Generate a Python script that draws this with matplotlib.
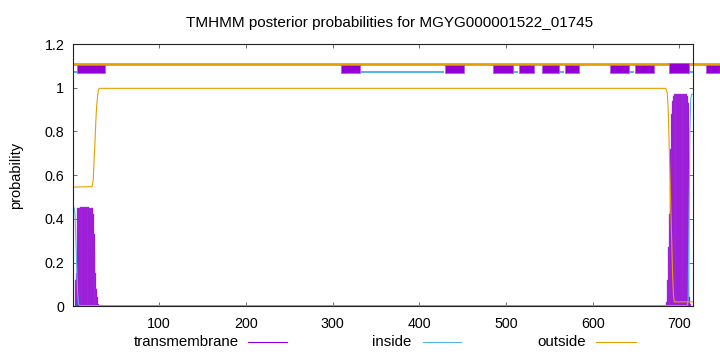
import matplotlib
matplotlib.use('Agg')
import matplotlib.pyplot as plt
from matplotlib.patches import Rectangle
from matplotlib.lines import Line2D

plt.rcParams['font.family'] = ['Liberation Sans', 'DejaVu Sans']

W, H = 720, 352
seq_len = 715

# transmembrane posterior (impulses), only the non-zero residues
tm_left_res = list(range(4, 31))
tm_left = [0.12, 0.15, 0.45, 0.45, 0.45, 0.452, 0.453, 0.453, 0.453, 0.453,
           0.453, 0.453, 0.453, 0.453, 0.452, 0.452, 0.451, 0.45, 0.45, 0.448,
           0.42, 0.33, 0.25, 0.15, 0.08, 0.04, 0.01]
tm_right_res = list(range(685, 714))
tm_right = [0.02, 0.12, 0.27, 0.42, 0.55, 0.72, 0.88, 0.94, 0.96,
            0.97, 0.97, 0.97, 0.97, 0.97, 0.97, 0.97, 0.97, 0.97, 0.97,
            0.97, 0.97, 0.97, 0.97, 0.97,
            0.96, 0.93, 0.5, 0.04, 0.01]

# inside / outside posterior lines
inside_res = [1, 2, 3, 4, 5, 6, 7, 8, 709, 710, 711, 712, 713, 714, 715]
inside = [0.453, 0.45, 0.42, 0.3, 0.17, 0.06, 0.01, 0.003, 0.003, 0.03, 0.4,
          0.8, 0.95, 0.97, 0.97]
outside_res = [1, 22, 23, 24, 25, 26, 27, 28, 29, 30, 31, 684, 685, 686, 687,
               688, 689, 690, 691, 692, 693, 694, 715]
outside = [0.545, 0.547, 0.55, 0.58, 0.67, 0.75, 0.85, 0.92, 0.96, 0.99, 0.997,
           0.997, 0.99, 0.97, 0.9, 0.75, 0.6, 0.45, 0.3, 0.15, 0.05, 0.02, 0.02]

# topology strip at the top
tm_boxes = [(5, 38), (310, 332), (430, 452), (485, 508), (515, 532),
            (542, 561), (568, 584), (620, 642), (649, 671), (731, 770)]
tall_box = (688, 711)
inside_segs = [(1, 16), (333, 429), (509, 514), (562, 567), (643, 648),
               (712, 716)]

c_tm = '#9400d3'
c_in = '#56b4e9'
c_out = '#e69f00'

fig = plt.figure(figsize=(W / 100, H / 100), dpi=100)
ax = fig.add_axes([73.3 / W, 1 - 306.2 / H, (692.5 - 73.3) / W, (306.2 - 44) / H])

ax.bar(tm_left_res + tm_right_res, tm_left + tm_right, width=1.0,
       color=c_tm, edgecolor='#a947e0', linewidth=0.25, zorder=2)
ax.plot(inside_res, inside, color=c_in, lw=0.8, zorder=3)
ax.plot(outside_res, outside, color=c_out, lw=0.8, zorder=3)

# strip
ax.plot([1, 800], [1.11, 1.11], color=c_out, lw=2.0, clip_on=False,
        solid_capstyle='butt', zorder=4)
for a, b in inside_segs:
    ax.add_patch(Rectangle((a, 1.066), b - a, 0.012, facecolor=c_in,
                           edgecolor='none', clip_on=False, zorder=4))
for a, b in tm_boxes:
    ax.add_patch(Rectangle((a, 1.066), b - a, 0.038, facecolor=c_tm,
                           edgecolor='#b060e0', lw=0.6, clip_on=False, zorder=5))
ax.add_patch(Rectangle((tall_box[0], 1.066), tall_box[1] - tall_box[0], 0.048,
                       facecolor=c_tm, edgecolor='#b060e0', lw=0.6,
                       clip_on=False, zorder=5))

ax.set_xlim(1, seq_len)
ax.set_ylim(0, 1.2)
ax.set_xticks([100, 200, 300, 400, 500, 600, 700])
ax.set_yticks([0, 0.2, 0.4, 0.6, 0.8, 1.0, 1.2])
ax.set_yticklabels(['0', '0.2', '0.4', '0.6', '0.8', '1', '1.2'])
ax.tick_params(direction='in', length=3.2, width=0.6, color='#555555',
               labelsize=10.3, top=True, right=True)
ax.tick_params(axis='x', pad=8)
ax.tick_params(axis='y', pad=6.5)
for s in ax.spines.values():
    s.set_linewidth(0.8)
    s.set_color('#222222')
    s.set_zorder(6)

fig.text(390 / W, 1 - 22.7 / H, 'TMHMM posterior probabilities for MGYG000001522_01745',
         ha='center', va='center', fontsize=11)
fig.text(16 / W, 1 - 175 / H, 'probability', rotation=90, ha='center',
         va='center', fontsize=10.5)

# legend along the bottom
legend = [('transmembrane', c_tm, 239, 247.7, 286.7),
          ('inside', c_in, 411.7, 422.7, 461),
          ('outside', c_out, 586, 596, 635.7)]
ly = 1 - 341.7 / H
for label, col, tx, x0, x1 in legend:
    fig.text(tx / W, ly, label, ha='right', va='center', fontsize=10.8)
    fig.add_artist(Line2D([x0 / W, x1 / W], [ly, ly], color=col, lw=0.8,
                          transform=fig.transFigure))

fig.savefig('out.png', dpi=100)
